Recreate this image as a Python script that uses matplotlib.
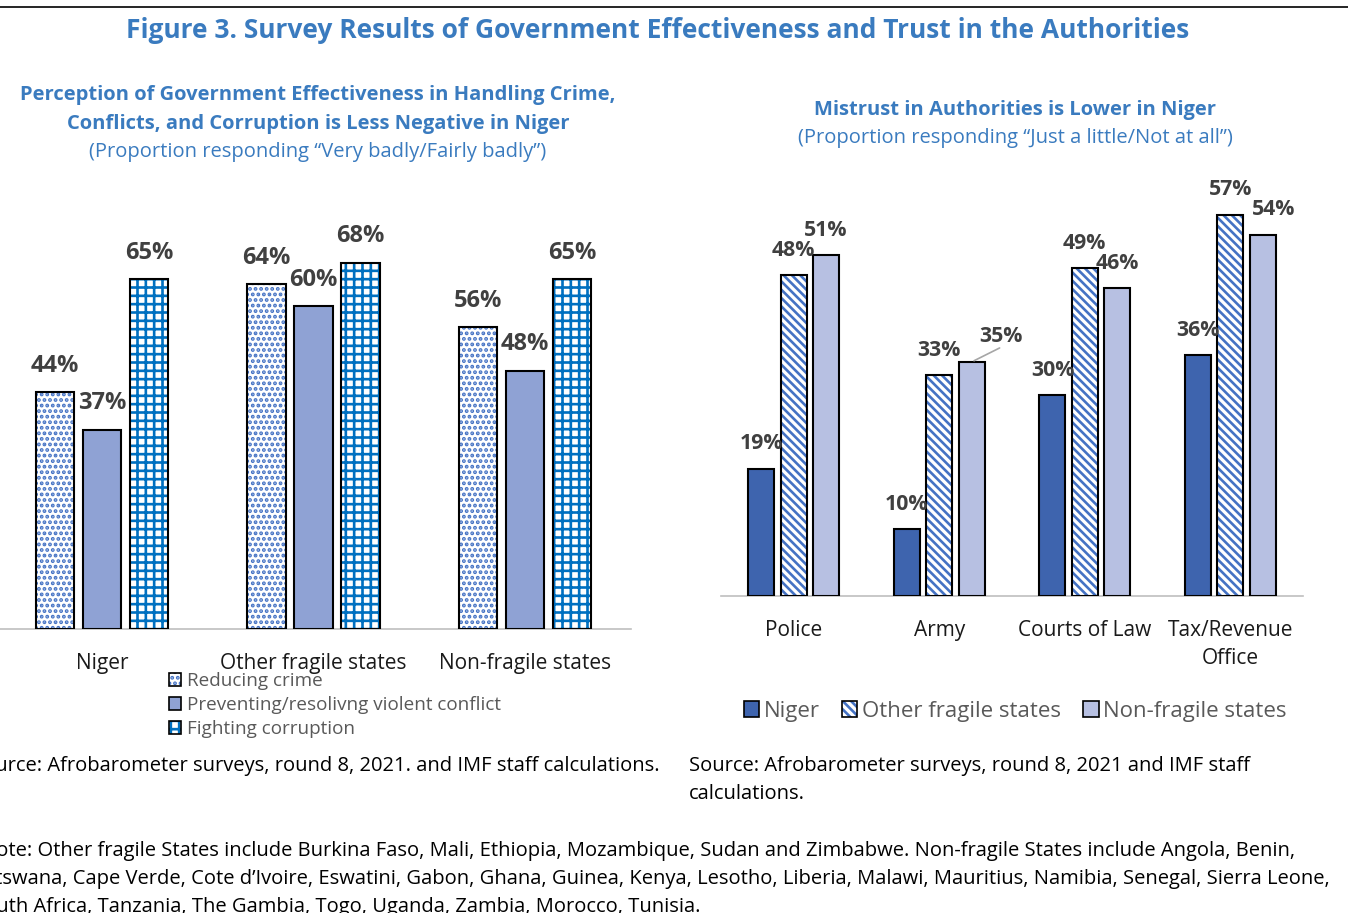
import matplotlib
matplotlib.use("Agg")
import matplotlib.pyplot as plt
from matplotlib.patches import Patch
import numpy as np

plt.rcParams['font.family'] = ['Open Sans', 'DejaVu Sans']
plt.rcParams['hatch.linewidth'] = 1.9

# ---------------- data ----------------
left_groups = ["Niger", "Other fragile states", "Non-fragile states"]
left_series = ["Reducing crime", "Preventing/resolivng violent conflict", "Fighting corruption"]
reducing_crime = [44, 64, 56]
preventing_conflict = [37, 60, 48]
fighting_corruption = [65, 68, 65]

right_groups = ["Police", "Army", "Courts of Law", "Tax/Revenue\nOffice"]
right_series = ["Niger", "Other fragile states", "Non-fragile states"]
niger = [19, 10, 30, 36]
other_fragile = [48, 33, 49, 57]
non_fragile = [51, 35, 46, 54]

W, H = 1348, 913
fig = plt.figure(figsize=(W / 100, H / 100), dpi=100)

BLUE_T = '#3A7BBF'
LBL = '#404040'
GRAY = '#595959'
DOTS = '...'
CHECK = '++'
STRIPE = '\\\\\\\\'


def fx(px):
    return px / W


def fy(py):
    return 1 - py / H


def hbar(ax, x, h, width, face, hatch=None, hcolor=None):
    if hatch:
        ax.bar(x, h, width, color=face, edgecolor=hcolor, hatch=hatch, linewidth=0, zorder=2)
        ax.bar(x, h, width, color='none', edgecolor='black', linewidth=1.5, zorder=3)
    else:
        ax.bar(x, h, width, color=face, edgecolor='black', linewidth=1.5, zorder=3)


def style_ax(ax):
    for s in ['top', 'left', 'right']:
        ax.spines[s].set_visible(False)
    ax.spines['bottom'].set_color('#BFBFBF')
    ax.spines['bottom'].set_linewidth(1.2)
    ax.set_yticks([])
    ax.tick_params(axis='x', length=0, pad=17, labelsize=15, labelcolor='#1a1a1a')
    ax.patch.set_alpha(0)


# top rule
fig.add_artist(plt.Line2D([0, 1], [fy(7), fy(7)], color='black', lw=1.2))
fig.text(fx(658), fy(30), "Figure 3. Survey Results of Government Effectiveness and Trust in the Authorities",
         ha='center', va='center', fontsize=19.0, fontweight='bold', color=BLUE_T)

# ---------------- left chart ----------------
axL = fig.add_axes([fx(-4), fy(629), fx(635), 80 * 5.385 / H])
axL.set_xlim(-0.5, 2.5)
axL.set_ylim(0, 80)
style_ax(axL)
xl = np.arange(len(left_groups))
bw, off = 0.18, 0.222
hbar(axL, xl - off, reducing_crime, bw, 'white', DOTS, '#4472C4')
hbar(axL, xl, preventing_conflict, bw, '#8FA2D4')
hbar(axL, xl + off, fighting_corruption, bw, 'white', CHECK, '#0070C0')
for dx, vals in zip([-off, 0, off], [reducing_crime, preventing_conflict, fighting_corruption]):
    for i, v in enumerate(vals):
        axL.annotate(f"{v}%", (xl[i] + dx, v), xytext=(0, 19), textcoords='offset points',
                     ha='center', va='center', fontsize=17, fontweight='bold', color=LBL)
axL.set_xticks(xl)
axL.set_xticklabels(left_groups)

fig.text(fx(318), fy(95), "Perception of Government Effectiveness in Handling Crime,",
         ha='center', va='center', fontsize=14.5, fontweight='bold', color=BLUE_T)
fig.text(fx(318), fy(124), "Conflicts, and Corruption is Less Negative in Niger",
         ha='center', va='center', fontsize=14.5, fontweight='bold', color=BLUE_T)
fig.text(fx(318), fy(152), "(Proportion responding \u201cVery badly/Fairly badly\u201d)",
         ha='center', va='center', fontsize=14.5, color=BLUE_T)

hL = [(Patch(facecolor='white', edgecolor='#4472C4', hatch=DOTS, lw=0),
       Patch(facecolor='none', edgecolor='black', lw=1.2)),
      Patch(facecolor='#8FA2D4', edgecolor='black', lw=1.2),
      (Patch(facecolor='white', edgecolor='#0070C0', hatch=CHECK, lw=0),
       Patch(facecolor='none', edgecolor='black', lw=1.2))]
fig.legend(hL, left_series, loc='upper left', bbox_to_anchor=(fx(169), fy(672)),
           frameon=False, fontsize=13.6, labelcolor=GRAY, handlelength=0.65, handleheight=0.65,
           handletextpad=0.3, labelspacing=0.32, borderpad=0, borderaxespad=0)

# ---------------- right chart ----------------
axR = fig.add_axes([fx(721), fy(596), fx(582), 60 * 6.686 / H])
axR.set_xlim(-0.5, 3.5)
axR.set_ylim(0, 60)
style_ax(axR)
xr = np.arange(len(right_groups))
bw2, off2 = 0.178, 0.222
hbar(axR, xr - off2, niger, bw2, '#3E64AE')
hbar(axR, xr, other_fragile, bw2, 'white', STRIPE, '#4472C4')
hbar(axR, xr + off2, non_fragile, bw2, '#B7C0E2')
label_dx = {(2, 1): 21, (2, 3): 8}
for k, (dx, vals) in enumerate(zip([-off2, 0, off2], [niger, other_fragile, non_fragile])):
    for i, v in enumerate(vals):
        ox = label_dx.get((k, i), 0)
        axR.annotate(f"{v}%", (xr[i] + dx, v), xytext=(ox, 18), textcoords='offset points',
                     ha='center', va='center', fontsize=15.3, fontweight='bold', color=LBL)
# leader line for Army non-fragile
axR.annotate("", (xr[1] + off2, non_fragile[1]), xytext=(22, 11), textcoords='offset points',
             arrowprops=dict(arrowstyle='-', color='#A6A6A6', lw=1.2))
axR.set_xticks(xr)
axR.set_xticklabels(right_groups, linespacing=1.45)
for t in axR.get_xticklabels():
    t.set_va('top')

fig.text(fx(1015), fy(110), "Mistrust in Authorities is Lower in Niger",
         ha='center', va='center', fontsize=14.5, fontweight='bold', color=BLUE_T)
fig.text(fx(1015), fy(138), "(Proportion responding \u201cJust a little/Not at all\u201d)",
         ha='center', va='center', fontsize=14.5, color=BLUE_T)

hR = [Patch(facecolor='#3E64AE', edgecolor='black', lw=1.2),
      (Patch(facecolor='white', edgecolor='#4472C4', hatch=STRIPE, lw=0),
       Patch(facecolor='none', edgecolor='black', lw=1.2)),
      Patch(facecolor='#B7C0E2', edgecolor='black', lw=1.2)]
fig.legend(hR, right_series, loc='center', bbox_to_anchor=(fx(1015), fy(711)), ncol=3,
           frameon=False, fontsize=16, labelcolor=GRAY, handlelength=0.7, handleheight=0.7,
           handletextpad=0.2, columnspacing=1.0, borderpad=0, borderaxespad=0)

# ---------------- sources / note ----------------
fig.text(fx(-28), fy(766), "Source: Afrobarometer surveys, round 8, 2021. and IMF staff calculations.",
         ha='left', va='center', fontsize=14.5, color='black')
fig.text(fx(689), fy(766), "Source: Afrobarometer surveys, round 8, 2021 and IMF staff",
         ha='left', va='center', fontsize=14.5, color='black')
fig.text(fx(689), fy(794), "calculations.", ha='left', va='center', fontsize=14.5, color='black')

fig.text(fx(-19), fy(851), "Note: Other fragile States include Burkina Faso, Mali, Ethiopia, Mozambique, Sudan and Zimbabwe. Non-fragile States include Angola, Benin,",
         ha='left', va='center', fontsize=14.5, color='black')
fig.text(fx(-30), fy(879), "Botswana, Cape Verde, Cote d\u2019Ivoire, Eswatini, Gabon, Ghana, Guinea, Kenya, Lesotho, Liberia, Malawi, Mauritius, Namibia, Senegal, Sierra Leone,",
         ha='left', va='center', fontsize=14.5, color='black')
fig.text(fx(-27), fy(907), "South Africa, Tanzania, The Gambia, Togo, Uganda, Zambia, Morocco, Tunisia.",
         ha='left', va='center', fontsize=14.5, color='black')

fig.savefig("out.png", dpi=100)
